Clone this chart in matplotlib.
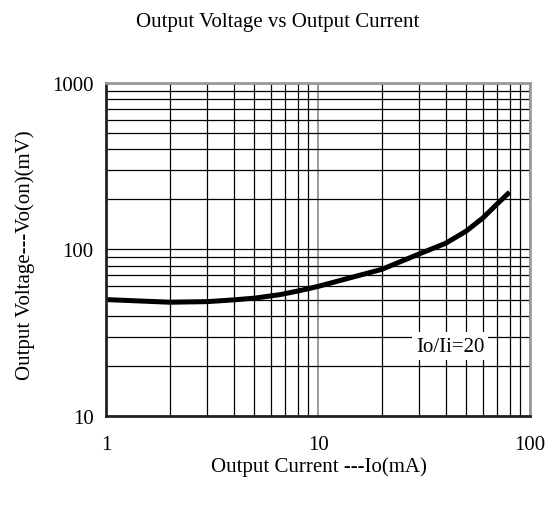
import matplotlib
matplotlib.use("Agg")
import matplotlib.pyplot as plt
from matplotlib.ticker import LogLocator, NullFormatter, FixedLocator, FixedFormatter

plt.rcParams['font.family'] = ['Liberation Serif', 'DejaVu Serif']

# Io (mA) vs Vo(on) (mV)
current_ma = [1, 2, 3, 4, 5, 6.6, 8.2, 10, 20, 30, 40, 50, 60, 70, 80]
voltage_mv = [50, 48.2, 48.6, 49.8, 51, 53.5, 56.6, 60, 76, 94, 109, 129, 155, 188, 221]

x_ticks = [1, 10, 100]
x_labels = ["1", "10", "100"]
y_ticks = [10, 100, 1000]
y_labels = ["10", "100", "1000"]

fig = plt.figure(figsize=(5.58, 5.06), dpi=100)
ax = fig.add_axes([0.19, 0.176, 0.76, 0.658])

ax.set_xscale("log")
ax.set_yscale("log")
ax.set_xlim(1, 100)
ax.set_ylim(10, 1000)

ax.xaxis.set_major_locator(FixedLocator(x_ticks))
ax.xaxis.set_major_formatter(FixedFormatter(x_labels))
ax.yaxis.set_major_locator(FixedLocator(y_ticks))
ax.yaxis.set_major_formatter(FixedFormatter(y_labels))
ax.xaxis.set_minor_locator(LogLocator(base=10, subs=range(2, 10)))
ax.yaxis.set_minor_locator(LogLocator(base=10, subs=range(2, 10)))
ax.xaxis.set_minor_formatter(NullFormatter())
ax.yaxis.set_minor_formatter(NullFormatter())

ax.tick_params(which="both", length=0, labelsize=15)
ax.tick_params(axis="x", pad=14)
ax.tick_params(axis="y", pad=9)

# grid: minor black, major on x grey
ax.grid(which="minor", color="black", linewidth=0.9)
ax.grid(which="major", axis="y", color="black", linewidth=0.9)
ax.grid(which="major", axis="x", color="#888888", linewidth=1.2)
ax.set_axisbelow(True)

for side in ["left", "bottom"]:
    ax.spines[side].set_color("#222222")
    ax.spines[side].set_linewidth(2)
for side in ["top", "right"]:
    ax.spines[side].set_color("#999999")
    ax.spines[side].set_linewidth(2)

ax.plot(current_ma, voltage_mv, color="black", linewidth=3.6, solid_capstyle="butt")

ax.text(0.811, 0.21, "Io/Ii=20", transform=ax.transAxes, fontsize=15,
        ha="center", va="center",
        bbox=dict(facecolor="white", edgecolor="none", pad=3))

fig.text(0.497, 1 - 22 / 506, "Output Voltage vs Output Current", fontsize=15,
         ha="center", va="center")
fig.text(0.571, 1 - 467 / 506, "Output Current ---Io(mA)", fontsize=15,
         ha="center", va="center")
fig.text(25 / 558, 1 - 255 / 506, "Output Voltage---Vo(on)(mV)", fontsize=15,
         ha="center", va="center", rotation=90)

plt.savefig("out.png", dpi=100)
